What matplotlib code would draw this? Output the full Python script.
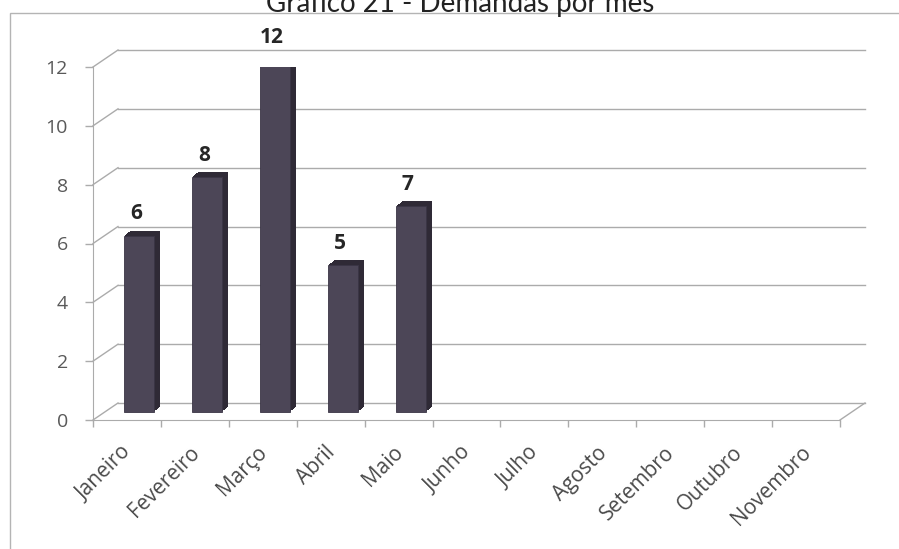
import numpy as np
import matplotlib
matplotlib.use('Agg')
import matplotlib.pyplot as plt
from matplotlib.transforms import ScaledTranslation, IdentityTransform
from matplotlib.lines import Line2D
from matplotlib.patches import Rectangle

# Dados do gráfico
meses = ['Janeiro', 'Fevereiro', 'Março', 'Abril', 'Maio', 'Junho',
         'Julho', 'Agosto', 'Setembro', 'Outubro', 'Novembro']
demandas = [6, 8, 12, 5, 7, None, None, None, None, None, None]
y_ticks = [0, 2, 4, 6, 8, 10, 12]
titulo = 'Gráfico 21 - Demandas por mês'

DPI = 100
W, H = 899, 549

plt.rcParams['font.family'] = ['Open Sans', 'DejaVu Sans']

fig = plt.figure(figsize=(W / DPI, H / DPI), dpi=DPI)

# moldura do gráfico (corta à direita e embaixo)
fig.patches.append(Rectangle((10 / W, -0.1), 1.2, 1 - 13 / H + 0.1,
                             transform=fig.transFigure, fill=False,
                             edgecolor='#b4b4b4', linewidth=1.0))

fig.text(0.512, 1 - 12 / H, titulo, ha='center', va='baseline',
         fontsize=20, color='#222222', family=['Lato', 'DejaVu Sans'])

ax = fig.add_axes([93 / W, (H - 420) / H, 747 / W, 353 / H])
ax.set_xlim(-0.5, len(meses) - 0.5)
ax.set_ylim(0, 12)
ax.patch.set_alpha(0)

# profundidade (em pixels)
back = ScaledTranslation(25 / DPI, 17 / DPI, fig.dpi_scale_trans)
mid = ScaledTranslation(12 / DPI, 8 / DPI, fig.dpi_scale_trans)

grid_c = '#ababab'
x0, x1 = ax.get_xlim()
for v in y_ticks:
    # linhas da parede do fundo
    ax.plot([x0, x1], [v, v], color=grid_c, lw=1.0,
            transform=ax.transData + back, clip_on=False, zorder=1)
    # parede lateral esquerda
    p = ax.transData.transform((x0, v))
    fig.lines.append(Line2D([p[0], p[0] + 25], [p[1], p[1] + 17],
                            transform=IdentityTransform(), color=grid_c, lw=1.0))

# borda direita do piso
p = ax.transData.transform((x1, 0))
fig.lines.append(Line2D([p[0], p[0] + 25], [p[1], p[1] + 17],
                        transform=IdentityTransform(), color=grid_c, lw=1.0))

# barras com efeito 3D
xs = np.arange(len(meses))
bx = [x for x, v in zip(xs, demandas) if v is not None]
bv = [v for v in demandas if v is not None]
largura = 0.44
for k in range(6, 0, -1):
    off = ScaledTranslation((12 + k) / DPI, (8 + 0.8 * k) / DPI, fig.dpi_scale_trans)
    ax.bar(bx, bv, width=largura, color='#2f2a36', edgecolor='none',
           transform=ax.transData + off, zorder=3)
ax.bar(bx, bv, width=largura, color='#4c4657', edgecolor='#3a3545', lw=0.6,
       transform=ax.transData + mid, zorder=4)

for x, v in zip(bx, bv):
    ax.annotate(str(v), xy=(x, v), xycoords=ax.transData + mid,
                xytext=(-2, 8), textcoords='offset points',
                ha='center', va='bottom', fontsize=15, fontweight='bold',
                color='#262626')

# eixos
for s in ['top', 'right']:
    ax.spines[s].set_visible(False)
ax.spines['left'].set_color(grid_c)
ax.spines['bottom'].set_color(grid_c)
ax.spines['left'].set_zorder(2)
ax.spines['bottom'].set_zorder(2)

ax.set_yticks(y_ticks)
ax.tick_params(axis='y', length=6, width=1, color=grid_c, pad=12,
               labelsize=14, labelcolor='#595959')

ax.set_xticks(xs)
ax.set_xticklabels(meses, rotation=45, ha='right', va='top',
                   rotation_mode='anchor')
ax.set_xticks(np.arange(len(meses) + 1) - 0.5, minor=True)
ax.tick_params(axis='x', which='major', length=0, pad=16,
               labelsize=15, labelcolor='#4a4a4a')
ax.tick_params(axis='x', which='minor', length=5, width=1, color=grid_c)
lbl_off = ScaledTranslation(-6 / DPI, 0, fig.dpi_scale_trans)
for lab in ax.get_xticklabels():
    lab.set_transform(lab.get_transform() + lbl_off)

fig.savefig('out.png', dpi=DPI, facecolor='white')
